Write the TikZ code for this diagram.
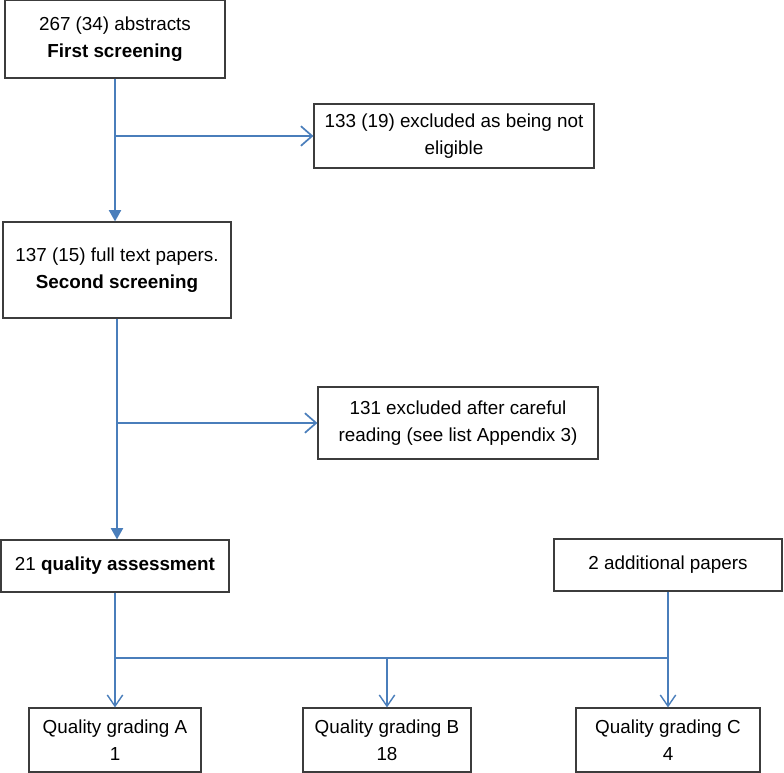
\documentclass[tikz,border=0pt]{standalone}
\usepackage{fontspec}
\setmainfont{Liberation Sans}
\usetikzlibrary{arrows.meta}
\definecolor{flowblue}{RGB}{74,126,187}
\definecolor{boxgray}{RGB}{60,60,60}
\tikzset{
  box/.style={draw=boxgray, line width=0.8pt, inner sep=0pt, align=center,
    font=\fontsize{13.4}{19.4}\selectfont},
  mainflow/.style={draw=flowblue, line width=1.4pt, -{Triangle[length=8pt,width=8.5pt]}},
  sideflow/.style={draw=flowblue, line width=1.2pt, -{Straight Barb[length=8pt,width=14pt]}},
  lowflow/.style={draw=flowblue, line width=1pt},
  lowarrow/.style={lowflow, -{Straight Barb[length=8pt,width=11pt]}},
}
\begin{document}
\begin{tikzpicture}[x=0.025cm, y=-0.025cm]
    \useasboundingbox (0,0) rectangle (784,773);

    \node[box, minimum width=5.5cm, minimum height=1.95cm] (abstracts) at (115,39)
        {267 (34) abstracts\\\textbf{First screening}};
    \node[box, minimum width=7cm, minimum height=1.6cm] (excluded1) at (454,136)
        {133 (19) excluded as being not\\eligible};
    \node[box, minimum width=5.7cm, minimum height=2.4cm] (fulltext) at (117,270)
        {137 (15) full text papers.\\\textbf{Second screening}};
    \node[box, minimum width=7cm, minimum height=1.8cm] (excluded2) at (458,423)
        {131 excluded after careful\\reading (see list Appendix 3)};
    \node[box, minimum width=5.7cm, minimum height=1.3cm] (quality) at (115,566)
        {21 \textbf{quality assessment}};
    \node[box, minimum width=5.7cm, minimum height=1.3cm] (additional) at (668,565)
        {2 additional papers};
    \node[box, minimum width=4.3cm, minimum height=1.6cm] (gradeA) at (115,740)
        {Quality grading A\\1};
    \node[box, minimum width=4.2cm, minimum height=1.6cm] (gradeB) at (387,740)
        {Quality grading B\\18};
    \node[box, minimum width=4.6cm, minimum height=1.6cm] (gradeC) at (668,740)
        {Quality grading C\\4};
    \coordinate (join) at (115,658);

    \draw[mainflow] (abstracts.south) -- (abstracts.south |- fulltext.north);
    \draw[sideflow] (abstracts.south |- excluded1.west) -- (excluded1.west);
    \draw[mainflow] (fulltext.south) -- (fulltext.south |- quality.north);
    \draw[sideflow] (fulltext.south |- excluded2.west) -- (excluded2.west);

    \draw[lowflow] (quality.south |- join) -- (additional.south |- join);
    \draw[lowarrow] (quality.south) -- (quality.south |- gradeA.north);
    \draw[lowarrow] (join -| gradeB.north) -- (gradeB.north);
    \draw[lowarrow] (additional.south) -- (gradeC.north);
\end{tikzpicture}
\end{document}
